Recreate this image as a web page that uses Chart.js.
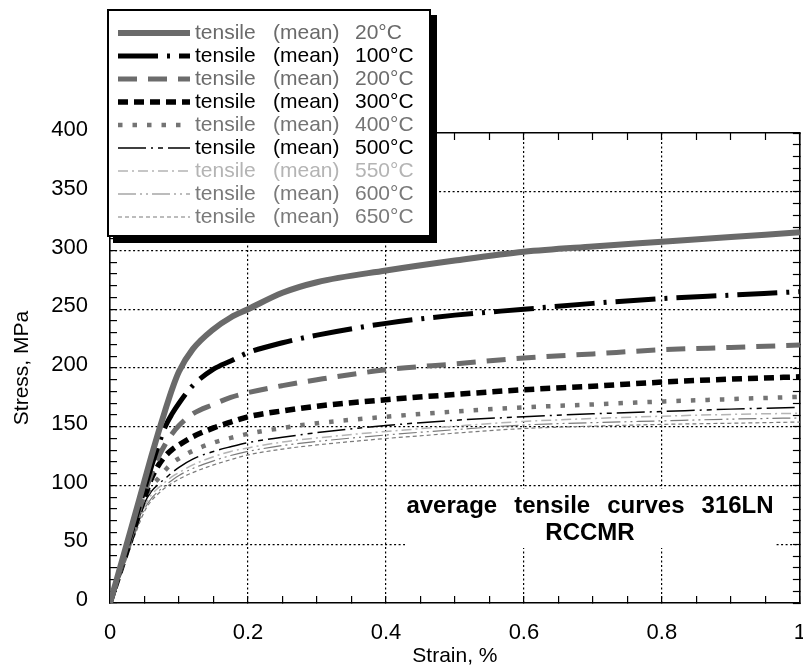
<!DOCTYPE html>
<html>
<head>
<meta charset="utf-8">
<script src="https://cdn.jsdelivr.net/npm/chart.js@4.4.1/dist/chart.umd.min.js"></script>
<style>
  html, body { margin: 0; padding: 0; background: #fff; overflow: hidden; }
  #wrap { width: 830px; height: 669px; }
</style>
</head>
<body>
<div id="wrap"><canvas id="canvas" width="830" height="669"></canvas></div>
<script>
// strain (%) sampling points shared by all curves
const strain = [0, 0.03, 0.05, 0.06, 0.07, 0.08, 0.09, 0.1, 0.12, 0.15, 0.175, 0.2, 0.25, 0.3, 0.4, 0.5, 0.6, 0.7, 0.8, 0.9, 1.0]

// stress (MPa)
const stress20  = [0, 62, 104, 125, 145, 164, 182, 197, 216, 233, 243, 250, 264, 273, 283, 291.5, 299, 303.5, 307.5, 311.5, 315.5]
const stress100 = [0, 58, 97, 116, 134, 150, 161, 170, 185, 199, 206, 213, 221.5, 228, 238, 245, 250, 255, 259, 262, 265]
const stress200 = [0, 56, 93, 110, 124, 135, 144, 151, 161, 169, 175, 179, 185, 190, 198.5, 203.5, 208.5, 212, 215.5, 217.5, 219.5]
const stress300 = [0, 54, 90, 106, 117, 125, 130.5, 134.5, 141.5, 149, 154, 158.5, 163.5, 167.5, 173, 177.5, 181.5, 184.5, 188, 190.5, 192.5]
const stress400 = [0, 53, 88, 99, 106, 113, 119, 123, 129.5, 136.5, 140.5, 144, 149, 153, 158.5, 163, 166.5, 169, 171.5, 173.5, 175.5]
const stress500 = [0, 51, 85, 95, 101, 106, 111, 115.5, 122.5, 129, 133, 136.5, 141, 145, 151, 155.5, 158.5, 161, 163, 165, 166.5]
const stress550 = [0, 50, 82, 92, 98, 103, 107.5, 111, 117.5, 124.5, 129, 132, 137, 140.5, 146, 150.5, 154.5, 157, 159, 160.5, 161.5]
const stress600 = [0, 49, 80, 89, 95, 100, 104.5, 108.5, 114.5, 121, 125.5, 129, 134, 137.5, 143, 147.5, 151.5, 153.5, 155, 156.5, 157.5]
const stress650 = [0, 48, 78, 87, 93, 98, 102, 105.5, 111, 117.5, 122, 126, 131, 134.5, 140, 144.5, 148.5, 150.5, 152, 153, 154]

const temperatures = ['20°C', '100°C', '200°C', '300°C', '400°C', '500°C', '550°C', '600°C', '650°C']
const series = [stress20, stress100, stress200, stress300, stress400, stress500, stress550, stress600, stress650]

const strainTicks = [0, 0.2, 0.4, 0.6, 0.8, 1]
const strainTickLabels = ['0', '0.2', '0.4', '0.6', '0.8', '1']
const strainGrid = [0.2, 0.4, 0.6, 0.8]
const stressTicks = [0, 50, 100, 150, 200, 250, 300, 350, 400]
const stressGrid = [50, 100, 150, 200, 250, 300, 350]

const font = '"Liberation Sans", Arial, Helvetica, sans-serif'

// line look of each curve, same order as temperatures
const styles = [
  { color: '#6a6a6a', width: 6, dash: [], text: '#6a6a6a' },
  { color: '#000000', width: 5, dash: [40, 9, 3, 9], text: '#000000' },
  { color: '#6c6c6c', width: 5, dash: [19, 11], text: '#6c6c6c' },
  { color: '#000000', width: 5.5, dash: [10, 6], text: '#000000' },
  { color: '#747474', width: 4.5, dash: [4.5, 10], text: '#747474' },
  { color: '#000000', width: 1.5, dash: [28, 5, 2, 5, 5, 5], text: '#000000' },
  { color: '#b4b4b4', width: 1.5, dash: [10, 4, 2, 4], text: '#b4b4b4' },
  { color: '#7a7a7a', width: 1.2, dash: [18, 4, 2, 4, 2, 4], text: '#7a7a7a' },
  { color: '#7a7a7a', width: 1.2, dash: [4, 3], text: '#7a7a7a' },
]

const near = (list, v) => list.some(t => Math.abs(t - v) < 1e-6)

const datasets = series.map((values, i) => ({
  label: 'tensile (mean) ' + temperatures[i],
  data: strain.map((x, k) => ({ x: x, y: values[k] })),
  borderColor: styles[i].color,
  borderWidth: styles[i].width,
  borderDash: styles[i].dash,
  pointRadius: 0,
  fill: false,
  cubicInterpolationMode: 'monotone',
  xAxisID: 'x',
  yAxisID: 'y',
}))

const tickGrid = list => ({
  color: c => (c.tick && near(list, c.tick.value)) ? '#000' : 'rgba(0,0,0,0)',
  lineWidth: 1.2,
  tickLength: -7,
  tickColor: '#000',
  tickWidth: 1.2,
})

const boxLegend = {
  id: 'boxLegend',
  afterDraw(chart) {
    const ctx = chart.ctx
    ctx.save()

    // title block inside the plot
    ctx.fillStyle = '#fff'
    ctx.fillRect(405, 489, 370, 59)
    ctx.fillStyle = '#000'
    ctx.font = 'bold 24px ' + font
    ctx.textBaseline = 'alphabetic'
    const words = ['average', 'tensile', 'curves', '316LN']
    const gap = 17
    const total = words.reduce((s, w) => s + ctx.measureText(w).width, 0) + gap * (words.length - 1)
    let wx = 590 - total / 2
    words.forEach(w => {
      ctx.textAlign = 'left'
      ctx.fillText(w, wx, 513)
      wx += ctx.measureText(w).width + gap
    })
    ctx.textAlign = 'center'
    ctx.fillText('RCCMR', 590, 540)

    // legend box with shadow
    ctx.fillStyle = '#000'
    ctx.fillRect(113, 15, 324, 228)
    ctx.fillStyle = '#fff'
    ctx.fillRect(107, 9, 324, 228)
    ctx.lineWidth = 2
    ctx.strokeStyle = '#000'
    ctx.strokeRect(108, 10, 322, 226)

    ctx.textAlign = 'left'
    ctx.textBaseline = 'middle'
    ctx.font = '21px ' + font
    chart.data.datasets.forEach((ds, i) => {
      const y = 33 + i * 23
      ctx.beginPath()
      ctx.strokeStyle = ds.borderColor
      ctx.lineWidth = ds.borderWidth
      ctx.setLineDash(ds.borderDash)
      ctx.moveTo(118, y)
      ctx.lineTo(190, y)
      ctx.stroke()
      ctx.setLineDash([])
      ctx.fillStyle = styles[i].text
      ctx.fillText('tensile', 195, y)
      ctx.fillText('(mean)', 273, y)
      ctx.fillText(temperatures[i], 355, y)
    })
    ctx.restore()
  }
}

const config = {
  type: 'line',
  data: { datasets: datasets },
  options: {
    responsive: false,
    animation: false,
    maintainAspectRatio: false,
    layout: { padding: { left: 0, right: 29, top: 133, bottom: 0 } },
    plugins: { legend: { display: false }, tooltip: { enabled: false } },
    scales: {
      x: {
        type: 'linear', position: 'bottom', min: 0, max: 1,
        afterFit: s => { s.height = 66 },
        ticks: {
          stepSize: 0.05, autoSkip: false, maxRotation: 0, padding: 24,
          font: { family: font, size: 22 }, color: '#000',
          callback: v => {
            const k = strainTicks.findIndex(t => Math.abs(t - v) < 1e-6)
            return k < 0 ? '' : strainTickLabels[k]
          }
        },
        grid: tickGrid(strainGrid),
        border: { color: '#000', width: 1.6, dash: [2, 2.5] },
        title: { display: true, text: 'Strain, %', color: '#000', font: { family: font, size: 21 }, padding: { top: 0, bottom: 0 } }
      },
      y: {
        type: 'linear', position: 'left', min: 0, max: 400,
        afterFit: s => { s.width = 110 },
        ticks: {
          stepSize: 10, autoSkip: false, padding: 29, labelOffset: -3,
          font: { family: font, size: 22 }, color: '#000',
          callback: v => near(stressTicks, v) ? String(v) : ''
        },
        grid: tickGrid(stressGrid),
        border: { color: '#000', width: 1.6, dash: [2, 2.5] },
        title: { display: true, text: 'Stress, MPa', color: '#000', font: { family: font, size: 21 }, padding: { top: 10, bottom: 0 } }
      },
      x2: {
        type: 'linear', position: 'top', min: 0, max: 1,
        afterFit: s => { s.height = 0 },
        ticks: { stepSize: 0.05, display: false },
        grid: { drawOnChartArea: false, tickLength: -7, tickColor: '#000', tickWidth: 1.2 },
        border: { color: '#000', width: 1.6 }
      },
      y2: {
        type: 'linear', position: 'right', min: 0, max: 400,
        afterFit: s => { s.width = 0 },
        ticks: { stepSize: 10, display: false },
        grid: { drawOnChartArea: false, tickLength: -7, tickColor: '#000', tickWidth: 1.2 },
        border: { color: '#000', width: 1.6 }
      }
    }
  },
  plugins: [boxLegend]
}

const canvas = document.getElementById('canvas')
const chart = new Chart(canvas, config)
</script>
</body>
</html>
